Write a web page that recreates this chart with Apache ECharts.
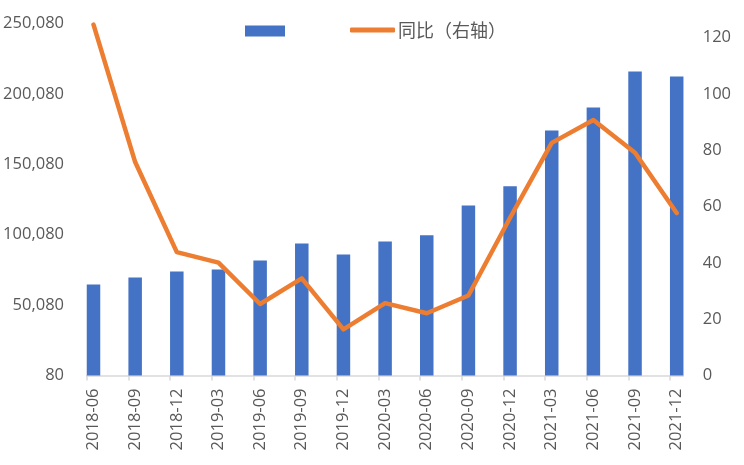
<!DOCTYPE html>
<html>
<head>
<meta charset="utf-8">
<script src="https://cdn.jsdelivr.net/npm/echarts@6/dist/echarts.min.js"></script>
<style>html,body{margin:0;padding:0;background:#fff;}#c{width:744px;height:465px;}</style>
</head>
<body>
<div id="c"></div>
<script>
const categories = ['2018-06','2018-09','2018-12','2019-03','2019-06','2019-09','2019-12','2020-03','2020-06','2020-09','2020-12','2021-03','2021-06','2021-09','2021-12'];
const barValues = [64700, 69700, 73900, 75400, 81700, 93800, 86000, 95200, 99700, 120800, 134500, 174000, 190400, 216000, 212400];
const yoyValues = [124.6, 75.8, 43.8, 40.1, 25.4, 34.5, 16.4, 25.7, 22.1, 28.4, 56.0, 82.6, 90.7, 79.1, 57.7];
const leftTicks = [80, 50080, 100080, 150080, 200080, 250080];
const rightTicks = [0, 20, 40, 60, 80, 100, 120];
const tickPositions = [0,1,2,3,4,5,6,7,8,9,10,11,12,13,14];
const barName = '数值';
const lineName = '同比（右轴）';

const font = 'Open Sans';
const grey = '#595959';
const chart = echarts.init(document.getElementById('c'), null, {renderer: 'canvas'});
chart.setOption({
  animation: false,
  backgroundColor: '#ffffff',
  grid: [
    {left: 93.5, right: 67.3, top: 23.5, bottom: 89.5},
    {left: 86.7, right: 60.7, top: 23.5, bottom: 89.5}
  ],
  legend: [
    {
      data: [barName], left: 245, top: 25.5, padding: 0,
      itemWidth: 40, itemHeight: 11, icon: 'rect',
      formatter: function () { return ''; },
      textStyle: {fontSize: 11}
    },
    {
      data: [{name: lineName, icon: 'roundRect'}], left: 350, top: 21, padding: 0,
      itemWidth: 45, itemHeight: 5, itemGap: 0,
      textStyle: {fontFamily: 'Noto Sans CJK SC', fontSize: 18, color: grey, padding: [0, 0, 0, -2]}
    }
  ],
  xAxis: [
    {
      type: 'category', gridIndex: 0, data: categories, boundaryGap: false,
      axisLine: {show: false}, axisTick: {show: false},
      axisLabel: {rotate: 90, margin: 13, fontFamily: font, fontSize: 16.5, color: grey, interval: 0},
      splitLine: {show: false}
    },
    {
      type: 'value', gridIndex: 1, min: 0, max: 14.32,
      axisLine: {show: true, lineStyle: {color: '#D9D9D9', width: 1.5}},
      axisTick: {show: true, customValues: tickPositions, length: 5, lineStyle: {color: '#D9D9D9', width: 1.5}},
      axisLabel: {show: false},
      splitLine: {show: false}
    }
  ],
  yAxis: [
    {
      type: 'value', gridIndex: 0, min: 80, max: 250080, position: 'left',
      axisLine: {show: false}, axisTick: {show: false}, splitLine: {show: false},
      axisLabel: {
        customValues: leftTicks, margin: 29.5, fontFamily: font, fontSize: 16.5, color: grey,
        formatter: function (v) { return v.toLocaleString('en-US'); }
      }
    },
    {
      type: 'value', gridIndex: 0, min: 0, max: 125, position: 'right',
      axisLine: {show: false}, axisTick: {show: false}, splitLine: {show: false},
      axisLabel: {customValues: rightTicks, margin: 26, fontFamily: font, fontSize: 16.5, color: grey}
    },
    {
      type: 'value', gridIndex: 1, show: false, min: 0, max: 1
    }
  ],
  series: [
    {
      name: barName, type: 'bar', xAxisIndex: 0, yAxisIndex: 0,
      data: barValues, barWidth: 13.5,
      itemStyle: {color: '#4472C4'}
    },
    {
      name: lineName, type: 'line', xAxisIndex: 0, yAxisIndex: 1,
      data: yoyValues, symbol: 'none', smooth: false, z: 5,
      itemStyle: {color: '#ED7D31'},
      lineStyle: {color: '#ED7D31', width: 4.5, cap: 'round', join: 'round'}
    }
  ]
});
</script>
</body>
</html>
